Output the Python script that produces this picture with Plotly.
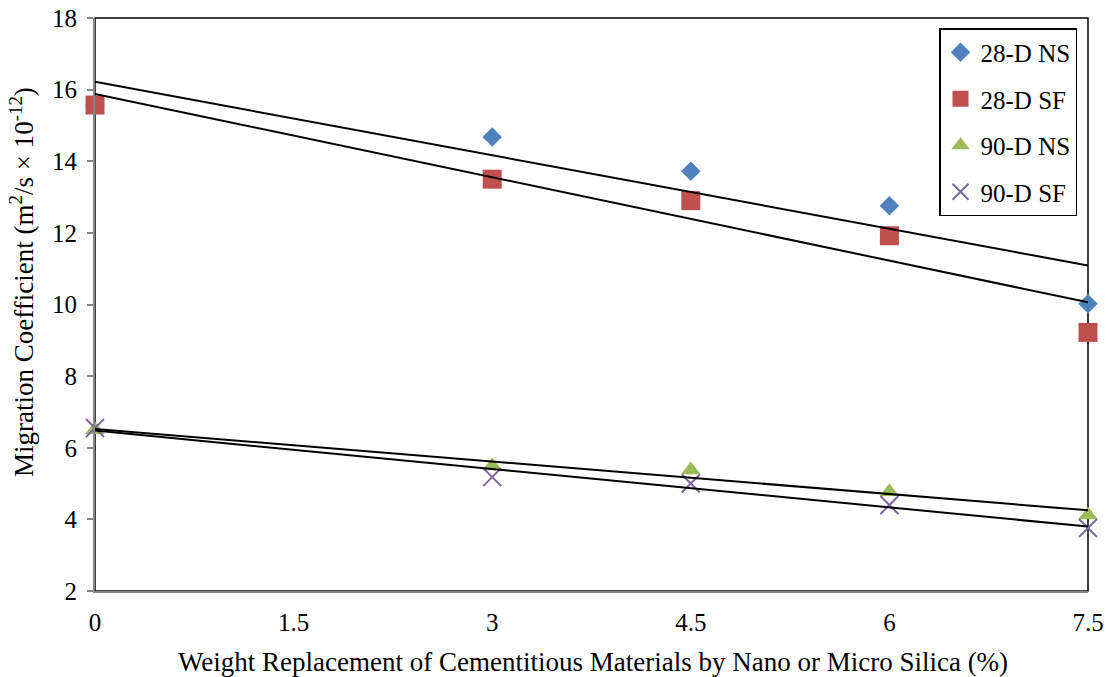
import numpy as np
import plotly.graph_objects as go

# ---- data ----
x_vals = [0, 3, 4.5, 6, 7.5]
d28_ns = [15.55, 14.68, 13.72, 12.76, 10.02]
d28_sf = [15.57, 13.50, 12.90, 11.92, 9.22]
d90_ns = [6.50, 5.49, 5.38, 4.77, 4.12]
d90_sf = [6.55, 5.18, 5.00, 4.40, 3.76]

series_names = ["28-D NS", "28-D SF", "90-D NS", "90-D SF"]
x_tick_vals = [0, 1.5, 3, 4.5, 6, 7.5]
x_tick_text = ["0", "1.5", "3", "4.5", "6", "7.5"]
y_tick_vals = [2, 4, 6, 8, 10, 12, 14, 16, 18]
x_title = "Weight Replacement of Cementitious Materials by Nano or Micro Silica (%)"
y_title = "Migration Coefficient (m<sup>2</sup>/s × 10<sup>-12</sup>)"

# ---- styles ----
colors = ["#4F81BD", "#C0504D", "#9BBB59", "#8064A2"]
symbols = ["diamond", "square", "triangle-up", "x-thin"]
sizes = [15, 19, 17, 18]
FONT = "Liberation Serif, Times New Roman, serif"
FS_TICK = 25
FS_TITLE = 27
FS_LEG = 25

ML, MR, MT, MB = 95, 22, 18, 86
PW = 1110 - ML - MR
PH = 677 - MT - MB

fig = go.Figure()
all_series = [d28_ns, d28_sf, d90_ns, d90_sf]
for i, (name, ys) in enumerate(zip(series_names, all_series)):
    marker = dict(symbol=symbols[i], size=sizes[i], color=colors[i])
    if symbols[i] == "x-thin":
        marker["line"] = dict(color=colors[i], width=2)
    fig.add_trace(go.Scatter(
        x=x_vals, y=ys, mode="markers", name=name, marker=marker,
        cliponaxis=False, legendgroup=name,
    ))

# linear trendlines (least squares fit of each series)
xs = np.array(x_vals, dtype=float)
xline = np.array([0.0, 7.5])
for ys in all_series:
    k, b = np.polyfit(xs, np.array(ys, dtype=float), 1)
    fig.add_trace(go.Scatter(
        x=xline, y=k * xline + b, mode="lines",
        line=dict(color="black", width=2), showlegend=False,
        hoverinfo="skip", cliponaxis=False,
    ))

# plot area border (black)
fig.add_shape(type="rect", xref="x domain", yref="y domain",
              x0=0, x1=1, y0=0, y1=1,
              line=dict(color="black", width=1.5), layer="below")

# axis titles as annotations for precise placement
fig.add_annotation(
    text=y_title, xref="paper", yref="paper",
    x=-(ML - 22) / PW, y=(MT + PH - 282) / PH, xanchor="center", yanchor="middle",
    textangle=-90, showarrow=False,
    font=dict(family=FONT, size=FS_TITLE, color="black"),
)
fig.add_annotation(
    text=x_title, xref="paper", yref="paper",
    x=(593 - ML) / PW, y=-(662 - (MT + PH)) / PH, xanchor="center", yanchor="middle",
    showarrow=False,
    font=dict(family=FONT, size=FS_TITLE, color="black"),
)

fig.update_layout(
    width=1110, height=677,
    margin=dict(l=ML, r=MR, t=MT, b=MB, autoexpand=False),
    paper_bgcolor="white", plot_bgcolor="white",
    font=dict(family=FONT, size=FS_TICK, color="black"),
    showlegend=True,
    legend=dict(
        x=(1077 - ML) / PW, y=(MT + PH - 28) / PH, xanchor="right", yanchor="top",
        bgcolor="white", bordercolor="black", borderwidth=1.5,
        font=dict(family=FONT, size=FS_LEG, color="black"),
        traceorder="grouped", tracegroupgap=11,
        itemwidth=30,
    ),
    xaxis=dict(
        range=[0, 7.5], tickvals=x_tick_vals, ticktext=x_tick_text,
        showgrid=False, zeroline=False, showline=True,
        linecolor="#868686", linewidth=2, ticks="",
        ticklabelstandoff=8, automargin=False,
        tickfont=dict(family=FONT, size=FS_TICK),
    ),
    yaxis=dict(
        range=[2, 18], tickvals=y_tick_vals,
        showgrid=False, zeroline=False, showline=True,
        linecolor="#868686", linewidth=2, ticks="outside",
        tickcolor="#868686", ticklen=6, tickwidth=1.5,
        ticklabelstandoff=5, automargin=False,
        tickfont=dict(family=FONT, size=FS_TICK),
    ),
)

fig.write_html("out.html")
